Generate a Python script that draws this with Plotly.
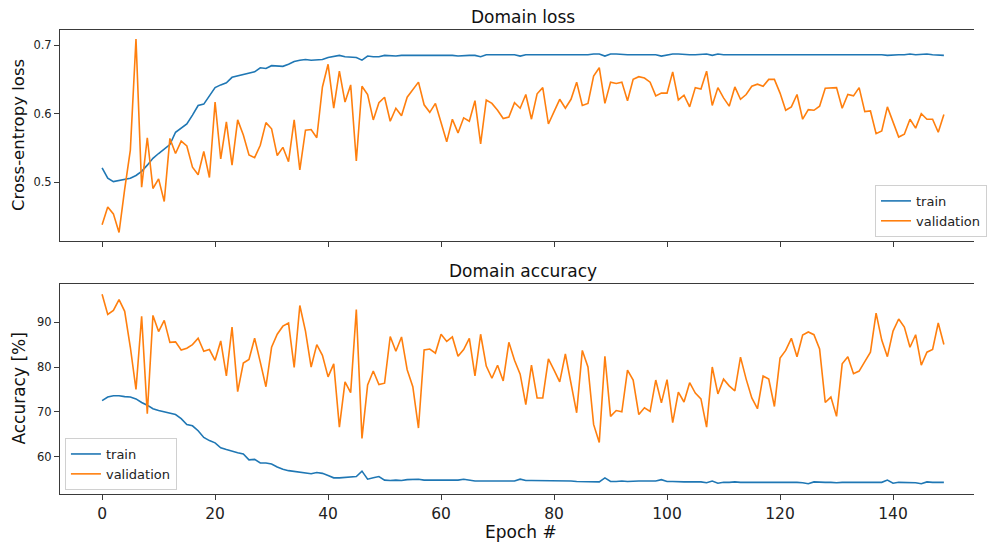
import plotly.graph_objects as go
from plotly.subplots import make_subplots

epochs = list(range(150))

train_loss = [
    0.521, 0.506, 0.501, 0.503, 0.504, 0.506, 0.510, 0.516, 0.525, 0.535,
    0.542, 0.549, 0.555, 0.573, 0.579, 0.585, 0.598, 0.612, 0.614, 0.626,
    0.638, 0.642, 0.645, 0.653, 0.655, 0.656, 0.659, 0.661, 0.667, 0.666,
    0.670, 0.670, 0.669, 0.672, 0.676, 0.678, 0.679, 0.678, 0.679, 0.679,
    0.682, 0.684, 0.685, 0.683, 0.683, 0.682, 0.678, 0.684, 0.683, 0.683,
    0.685, 0.684, 0.684, 0.685, 0.685, 0.685, 0.685, 0.685, 0.685, 0.686,
    0.685, 0.685, 0.685, 0.684, 0.685, 0.685, 0.685, 0.683, 0.686, 0.686,
    0.686, 0.685, 0.686, 0.686, 0.684, 0.686, 0.686, 0.686, 0.686, 0.685,
    0.686, 0.686, 0.686, 0.686, 0.686, 0.686, 0.686, 0.687, 0.687, 0.684,
    0.687, 0.687, 0.686, 0.686, 0.686, 0.686, 0.687, 0.686, 0.686, 0.684,
    0.686, 0.687, 0.687, 0.686, 0.686, 0.686, 0.686, 0.687, 0.685, 0.687,
    0.686, 0.686, 0.687, 0.686, 0.686, 0.686, 0.686, 0.686, 0.687, 0.686,
    0.686, 0.686, 0.686, 0.686, 0.686, 0.686, 0.687, 0.686, 0.686, 0.686,
    0.686, 0.686, 0.686, 0.686, 0.687, 0.686, 0.686, 0.686, 0.686, 0.685,
    0.686, 0.686, 0.686, 0.687, 0.686, 0.687, 0.687, 0.686, 0.686, 0.685,
]

val_loss = [
    0.438, 0.464, 0.454, 0.427, 0.490, 0.547, 0.709, 0.493, 0.565, 0.491,
    0.505, 0.472, 0.564, 0.542, 0.560, 0.553, 0.522, 0.511, 0.545, 0.507,
    0.617, 0.534, 0.588, 0.525, 0.591, 0.569, 0.540, 0.536, 0.554, 0.587,
    0.578, 0.539, 0.551, 0.530, 0.591, 0.518, 0.576, 0.577, 0.565, 0.639,
    0.672, 0.608, 0.662, 0.617, 0.642, 0.531, 0.640, 0.628, 0.591, 0.616,
    0.624, 0.589, 0.608, 0.597, 0.624, 0.635, 0.646, 0.613, 0.602, 0.615,
    0.587, 0.559, 0.592, 0.572, 0.594, 0.589, 0.619, 0.556, 0.620, 0.615,
    0.605, 0.593, 0.595, 0.616, 0.608, 0.628, 0.592, 0.629, 0.638, 0.585,
    0.603, 0.621, 0.608, 0.621, 0.646, 0.612, 0.615, 0.655, 0.667, 0.615,
    0.646, 0.644, 0.646, 0.619, 0.650, 0.654, 0.652, 0.646, 0.626, 0.630,
    0.630, 0.661, 0.620, 0.627, 0.610, 0.638, 0.636, 0.662, 0.612, 0.638,
    0.623, 0.611, 0.639, 0.621, 0.628, 0.640, 0.643, 0.640, 0.650, 0.650,
    0.630, 0.605, 0.610, 0.628, 0.592, 0.606, 0.605, 0.611, 0.637, 0.638,
    0.638, 0.608, 0.628, 0.626, 0.638, 0.603, 0.604, 0.571, 0.575, 0.610,
    0.588, 0.566, 0.570, 0.592, 0.579, 0.600, 0.592, 0.592, 0.573, 0.599,
]

train_acc = [
    72.5, 73.3, 73.6, 73.6, 73.4, 73.3, 72.9, 72.1, 71.5, 70.7,
    70.3, 70.0, 69.6, 69.4, 68.5, 67.2, 66.9, 65.8, 64.3, 63.6,
    63.1, 62.0, 61.6, 61.2, 60.9, 60.6, 59.3, 59.4, 58.6, 58.6,
    58.4, 57.7, 57.2, 56.9, 56.7, 56.5, 56.3, 56.2, 56.5, 56.3,
    55.8, 55.3, 55.3, 55.4, 55.4, 55.6, 56.8, 55.0, 55.3, 55.6,
    54.8, 54.7, 54.8, 54.7, 54.9, 54.9, 55.0, 54.8, 54.8, 54.7,
    54.7, 54.7, 54.8, 54.8, 55.0, 54.8, 54.6, 54.6, 54.6, 54.7,
    54.7, 54.7, 54.6, 54.6, 55.0, 54.7, 54.7, 54.7, 54.7, 54.7,
    54.7, 54.6, 54.7, 54.6, 54.5, 54.5, 54.5, 54.4, 54.4, 55.3,
    54.5, 54.5, 54.6, 54.5, 54.6, 54.6, 54.6, 54.6, 54.6, 54.9,
    54.5, 54.5, 54.4, 54.4, 54.4, 54.4, 54.4, 54.2, 54.6, 54.1,
    54.3, 54.3, 54.4, 54.3, 54.3, 54.4, 54.3, 54.3, 54.4, 54.3,
    54.4, 54.4, 54.4, 54.3, 54.2, 54.0, 54.4, 54.3, 54.3, 54.3,
    54.2, 54.3, 54.3, 54.3, 54.3, 54.3, 54.3, 54.4, 54.3, 54.8,
    54.1, 54.3, 54.3, 54.2, 54.2, 54.0, 54.4, 54.3, 54.3, 54.3,
]

val_acc = [
    96.2, 91.7, 92.6, 95.0, 92.4, 84.4, 75.0, 91.3, 69.6, 91.5,
    87.9, 90.4, 85.5, 85.6, 83.8, 84.2, 85.0, 86.4, 83.5, 83.9,
    81.5, 85.8, 78.0, 88.9, 74.5, 80.9, 81.7, 86.4, 81.1, 75.6,
    84.4, 87.3, 89.1, 89.8, 79.9, 93.7, 88.0, 80.0, 85.0, 82.6,
    77.8, 80.7, 66.6, 76.7, 74.3, 92.8, 64.1, 76.0, 79.1, 76.1,
    76.4, 86.8, 83.5, 86.7, 79.4, 75.6, 66.4, 83.8, 84.0, 83.1,
    87.3, 85.7, 86.7, 82.4, 83.9, 86.4, 78.0, 87.3, 80.2, 77.5,
    80.4, 76.9, 85.5, 81.5, 78.4, 71.6, 80.4, 73.1, 73.1, 81.8,
    79.3, 76.7, 82.9, 76.4, 69.8, 83.7, 80.0, 67.2, 63.2, 82.4,
    69.0, 70.3, 70.0, 79.3, 77.1, 69.4, 70.9, 70.1, 77.1, 72.0,
    77.2, 67.6, 74.4, 72.2, 76.5, 74.2, 72.9, 66.6, 80.0, 74.0,
    77.3, 75.8, 74.7, 82.2, 77.3, 73.1, 70.7, 78.0, 77.3, 71.2,
    82.0, 83.7, 86.4, 82.3, 87.1, 87.8, 87.2, 84.0, 72.1, 73.3,
    69.0, 80.7, 82.3, 78.5, 79.1, 81.2, 83.3, 92.0, 86.0, 82.3,
    88.0, 90.7, 88.9, 84.4, 87.2, 80.4, 83.3, 83.9, 89.8, 85.0,
]

loss_ticks = [0.5, 0.6, 0.7]
acc_ticks = [60, 70, 80, 90]
epoch_ticks = [0, 20, 40, 60, 80, 100, 120, 140]

BLUE = "#1f77b4"
ORANGE = "#ff7f0e"
FONT = "DejaVu Sans"
SPINE = "#3a3a3a"

fig = make_subplots(rows=2, cols=1, vertical_spacing=0.0)

fig.add_trace(go.Scatter(x=epochs, y=train_loss, mode="lines", name="train",
                         line=dict(color=BLUE, width=1.6), legend="legend"), row=1, col=1)
fig.add_trace(go.Scatter(x=epochs, y=val_loss, mode="lines", name="validation",
                         line=dict(color=ORANGE, width=1.6), legend="legend"), row=1, col=1)
fig.add_trace(go.Scatter(x=epochs, y=train_acc, mode="lines", name="train",
                         line=dict(color=BLUE, width=1.6), legend="legend2"), row=2, col=1)
fig.add_trace(go.Scatter(x=epochs, y=val_acc, mode="lines", name="validation",
                         line=dict(color=ORANGE, width=1.6), legend="legend2"), row=2, col=1)

x_common = dict(range=[-7.45, 154.33], tickvals=epoch_ticks, ticks="outside", ticklen=5,
                tickcolor=SPINE, showline=True, linecolor=SPINE, linewidth=1, mirror=True,
                showgrid=False, zeroline=False)
fig.update_xaxes(**x_common, showticklabels=False, row=1, col=1)
fig.update_xaxes(**x_common, showticklabels=True, tickfont=dict(size=15.5, color="#222"),
                 row=2, col=1)
fig.update_layout(xaxis=dict(domain=[0, 1]), xaxis2=dict(domain=[0, 1]))

y_common = dict(ticks="outside", ticklen=5, tickcolor=SPINE, showline=True, linecolor=SPINE,
                linewidth=1, mirror=False, showgrid=False, zeroline=False,
                tickfont=dict(size=11.5, color="#222"))
fig.update_yaxes(**y_common, range=[0.4145, 0.722], tickvals=loss_ticks,
                 ticktext=[f"{t:.1f}" for t in loss_ticks], row=1, col=1)
fig.update_yaxes(**y_common, range=[51.7, 98.5], tickvals=acc_ticks, row=2, col=1)
fig.update_layout(yaxis=dict(domain=[0.5453, 1.0]), yaxis2=dict(domain=[0.0, 0.4526]))

legend_style = dict(bgcolor="rgba(255,255,255,0.8)", bordercolor="#d0d0d0", borderwidth=1,
                    font=dict(family=FONT, size=13, color="#222"), tracegroupgap=0,
                    itemwidth=30)
fig.update_layout(
    legend=dict(x=0.892, y=0.554, xanchor="left", yanchor="bottom", **legend_style),
    legend2=dict(x=0.0054, y=0.0086, xanchor="left", yanchor="bottom", **legend_style),
)

annotations = [
    dict(text="Domain loss", x=0.5065, y=1.028, xref="paper", yref="paper",
         showarrow=False, font=dict(size=17, family=FONT, color="#111"),
         xanchor="center", yanchor="middle"),
    dict(text="Domain accuracy", x=0.5065, y=0.4806, xref="paper", yref="paper",
         showarrow=False, font=dict(size=17, family=FONT, color="#111"),
         xanchor="center", yanchor="middle"),
    dict(text="Cross-entropy loss", x=-0.0453, y=0.7727, xref="paper", yref="paper",
         showarrow=False, textangle=-90, font=dict(size=16.5, family=FONT, color="#111"),
         xanchor="center", yanchor="middle"),
    dict(text="Accuracy [%]", x=-0.0453, y=0.2263, xref="paper", yref="paper",
         showarrow=False, textangle=-90, font=dict(size=17, family=FONT, color="#111"),
         xanchor="center", yanchor="middle"),
    dict(text="Epoch #", x=0.504, y=-0.081, xref="paper", yref="paper",
         showarrow=False, font=dict(size=17, family=FONT, color="#111"),
         xanchor="center", yanchor="middle"),
]

fig.update_layout(
    width=987, height=544,
    margin=dict(l=60, r=0, t=30, b=50),
    paper_bgcolor="white", plot_bgcolor="white",
    font=dict(family=FONT, color="#222"),
    annotations=annotations,
    showlegend=True,
)

fig.write_html("out.html")
